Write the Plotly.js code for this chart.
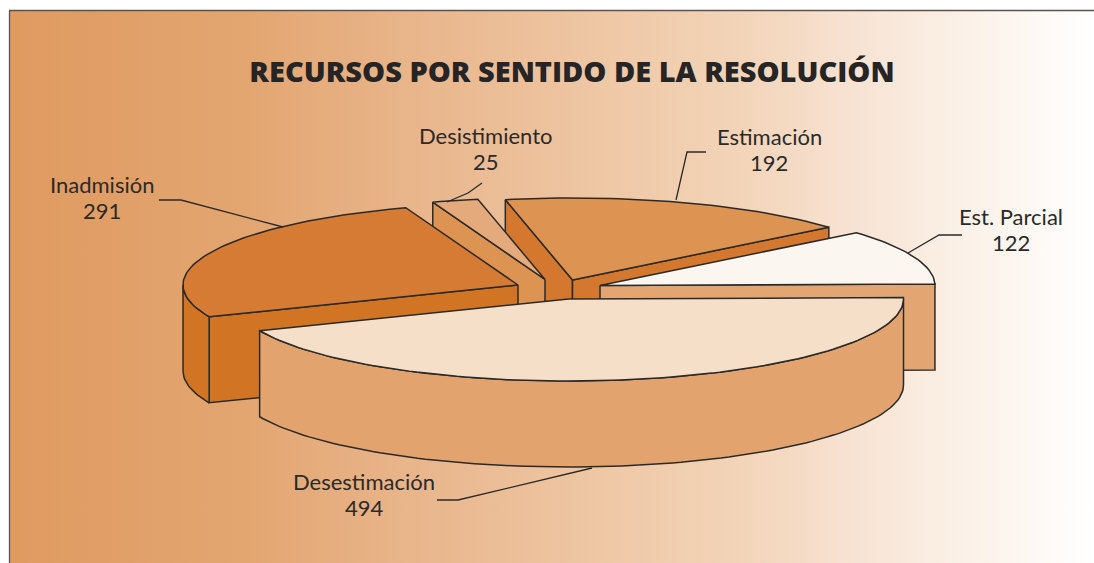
<!DOCTYPE html>
<html>
<head>
<meta charset="utf-8">
<script src="https://cdn.plot.ly/plotly-3.0.1.min.js"></script>
<style>
html,body{margin:0;padding:0;background:#fff;overflow:hidden}
#wrap{position:relative;width:1094px;height:563px}
#bg{position:absolute;left:10px;top:11px;right:0;bottom:0;
background:linear-gradient(90deg,#df9a60 0px,#e3a671 240px,#e8b388 380px,#efc8a6 600px,#f3d5ba 740px,#f7e1d0 830px,#faeee3 930px,#fdf7f1 1010px,#ffffff 1084px)}
#chart{position:absolute;left:0;top:0;width:1094px;height:563px}
</style>
</head>
<body>
<div id="wrap"><div id="bg"></div><div id="chart"></div></div>
<script>
// Data
const categories = ['Desestimación', 'Inadmisión', 'Desistimiento', 'Estimación', 'Est. Parcial'];
const values = [494, 291, 25, 192, 122];

// Styles and slice placement (same order as categories)
const topColors = ['#f5dfc8', '#d67b33', '#e5aa7c', '#dd9352', '#fbf6f0'];
const sideColors = ['#e2a36f', '#d17525', '#dd9352', '#d5782f', '#e3a673'];
const originX = [568.5, 518, 545, 572.5, 600];
const originY = [299, 285, 279.5, 280, 285.5];
const paintOrder = [3, 2, 1, 4, 0];
const labelX = [364, 102, 486, 769, 1011];
const labelY = [481.5, 184.5, 135, 136, 216];
const valueY = [507.5, 210.5, 161, 162, 242];
const leaderX = [[437, 458, 592], [159, 181, 283], [482, 468, 447], [706, 687, 676], [962, 939, 908]];
const leaderY = [[500, 500, 468], [200, 200, 227], [183, 193, 202], [152, 152, 200], [235, 235, 253]];

// Projection of the pie disc
const RX = 335, RY = 82, DEPTH = 86, START_DEG = -1;
const ink = '#2b2a29';
const total = values.reduce((a, b) => a + b, 0);

function rimPoint(i, deg) {
  const r = deg * Math.PI / 180;
  return [originX[i] + RX * Math.cos(r), originY[i] + RY * Math.sin(r)];
}
function arc(i, a, b) {
  const n = Math.max(2, Math.ceil(Math.abs(b - a) / 1.5));
  const pts = [];
  for (let k = 0; k <= n; k++) pts.push(rimPoint(i, a + (b - a) * k / n));
  return pts;
}
function polygon(pts, fill, name) {
  const x = pts.map(p => p[0]).concat(pts[0][0]);
  const y = pts.map(p => p[1]).concat(pts[0][1]);
  return {type: 'scatter', mode: 'lines', x, y, fill: 'toself', fillcolor: fill, name,
    line: {color: ink, width: 1.5, shape: 'linear'}, hoverinfo: 'name', showlegend: false};
}

// Angular range of each slice, derived from its value
const ranges = [];
let cursor = START_DEG;
values.forEach(v => { const s = v / total * 360; ranges.push([cursor, cursor + s]); cursor += s; });

const traces = [];
paintOrder.forEach(i => {
  const [a, b] = ranges[i];
  const apex = [originX[i], originY[i]];
  const drop = p => [p[0], p[1] + DEPTH];
  const face = p => polygon([apex, p, drop(p), drop(apex)], sideColors[i], categories[i]);
  if (Math.cos(a * Math.PI / 180) < 0) traces.push(face(rimPoint(i, a)));
  if (Math.cos(b * Math.PI / 180) > 0) traces.push(face(rimPoint(i, b)));
  const wa = Math.max(a, 0), wb = Math.min(b, 180);
  if (wb > wa) {
    const rim = arc(i, wa, wb);
    traces.push(polygon(rim.concat(rim.slice().reverse().map(drop)), sideColors[i], categories[i]));
  }
  traces.push(polygon([apex].concat(arc(i, a, b)), topColors[i], categories[i] + ': ' + values[i]));
});

categories.forEach((c, i) => traces.push({
  type: 'scatter', mode: 'lines', x: leaderX[i], y: leaderY[i],
  line: {color: ink, width: 1.3}, hoverinfo: 'skip', showlegend: false
}));

const annotations = [];
categories.forEach((c, i) => {
  [[c, labelY[i]], [String(values[i]), valueY[i]]].forEach(([text, y]) => annotations.push({
    x: labelX[i], y, xref: 'x', yref: 'y', text, showarrow: false,
    xanchor: 'center', yanchor: 'middle',
    font: {family: 'Lato, sans-serif', size: 22, color: ink}
  }));
});

const layout = {
  width: 1094, height: 563,
  margin: {l: 0, r: 0, t: 0, b: 0},
  paper_bgcolor: 'rgba(0,0,0,0)', plot_bgcolor: 'rgba(0,0,0,0)',
  title: {
    text: 'RECURSOS POR SENTIDO DE LA RESOLUCIÓN',
    x: 572 / 1094, xanchor: 'center', y: 1 - 72 / 563, yanchor: 'middle',
    font: {family: '"Open Sans", sans-serif', size: 29, color: '#262425', weight: 800}
  },
  xaxis: {range: [0, 1094], visible: false, fixedrange: true},
  yaxis: {range: [563, 0], visible: false, fixedrange: true},
  showlegend: false,
  annotations,
  shapes: [
    {type: 'line', xref: 'x', yref: 'y', x0: 9.5, x1: 9.5, y0: 10.5, y1: 563, line: {color: '#5a5350', width: 1.3}},
    {type: 'line', xref: 'x', yref: 'y', x0: 9, x1: 1094, y0: 10.5, y1: 10.5, line: {color: '#5a5350', width: 1.3}}
  ]
};
Plotly.newPlot('chart', traces, layout, {displayModeBar: false, responsive: false});
</script>
</body>
</html>
